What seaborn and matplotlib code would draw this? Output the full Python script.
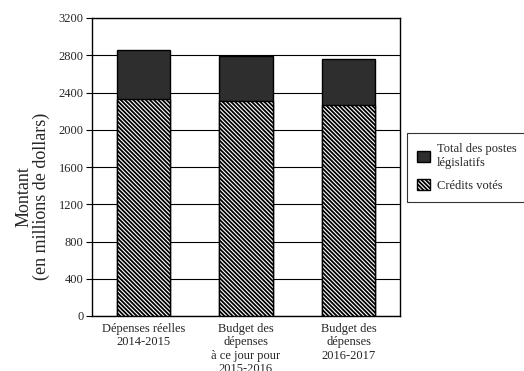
import matplotlib
matplotlib.use("Agg")
import matplotlib.pyplot as plt
import seaborn as sns
import pandas as pd
from matplotlib.patches import Patch

# Data (millions of dollars)
categories = ["Dépenses réelles\n2014-2015",
              "Budget des\ndépenses\nà ce jour pour\n2015-2016",
              "Budget des\ndépenses\n2016-2017"]
credits_votes = [2330, 2312, 2268]
total_postes = [2860, 2790, 2755]   # top of stacked bar (voted + statutory)
yticks = list(range(0, 3201, 400))

sns.set_theme(style="white")
plt.rcParams["font.family"] = ["Liberation Serif", "DejaVu Serif"]
plt.rcParams["hatch.linewidth"] = 1.3

df = pd.DataFrame({"cat": categories, "voted": credits_votes, "total": total_postes})

fig = plt.figure(figsize=(5.24, 3.71), dpi=100)
ax = fig.add_axes([92 / 524, 1 - 316 / 371, 308 / 524, 298 / 371])

dark = "#2e2e2e"
hatch = "\\" * 8
sns.barplot(data=df, x="cat", y="total", color=dark, width=0.52,
            edgecolor="black", linewidth=1, saturation=1, ax=ax, zorder=2)
sns.barplot(data=df, x="cat", y="voted", color="white", width=0.52,
            edgecolor="black", linewidth=1, saturation=1, ax=ax, zorder=3)
for p in ax.patches[len(categories):]:
    p.set_hatch(hatch)
    p.set_facecolor("white")

ax.set_ylim(0, 3200)
ax.set_xlim(-0.5, 2.5)
ax.set_yticks(yticks)
ax.set_yticklabels([str(v) for v in yticks], fontsize=9)
ax.set_xticks(range(len(categories)))
ax.set_xticklabels(categories, fontsize=9, linespacing=1.15)
ax.grid(axis="y", color="black", linewidth=0.8, zorder=0)
ax.set_axisbelow(True)
ax.tick_params(axis="y", direction="out", length=4, width=0.8, color="black",
               left=True, pad=2)
ax.tick_params(axis="x", length=0, pad=5)
for s in ax.spines.values():
    s.set_color("black")
    s.set_linewidth(1)
ax.set_xlabel("")
ax.set_ylabel("Montant\n(en millions de dollars)", fontsize=13, linespacing=1.05)
ax.yaxis.set_label_coords(-0.135, 0.4)

handles = [Patch(facecolor=dark, edgecolor="black", label="Total des postes\nlégislatifs"),
           Patch(facecolor="white", edgecolor="black", hatch=hatch, label="Crédits votés")]
leg = fig.legend(handles=handles, loc="upper left", bbox_to_anchor=(407 / 524, 1 - 133 / 371),
                 borderaxespad=0, fontsize=9, frameon=True, fancybox=False,
                 edgecolor="black", handlelength=1.0, handleheight=1.0,
                 borderpad=0.8, labelspacing=0.8, handletextpad=0.6)
leg.get_frame().set_linewidth(0.8)

fig.savefig("out.png", dpi=100)
